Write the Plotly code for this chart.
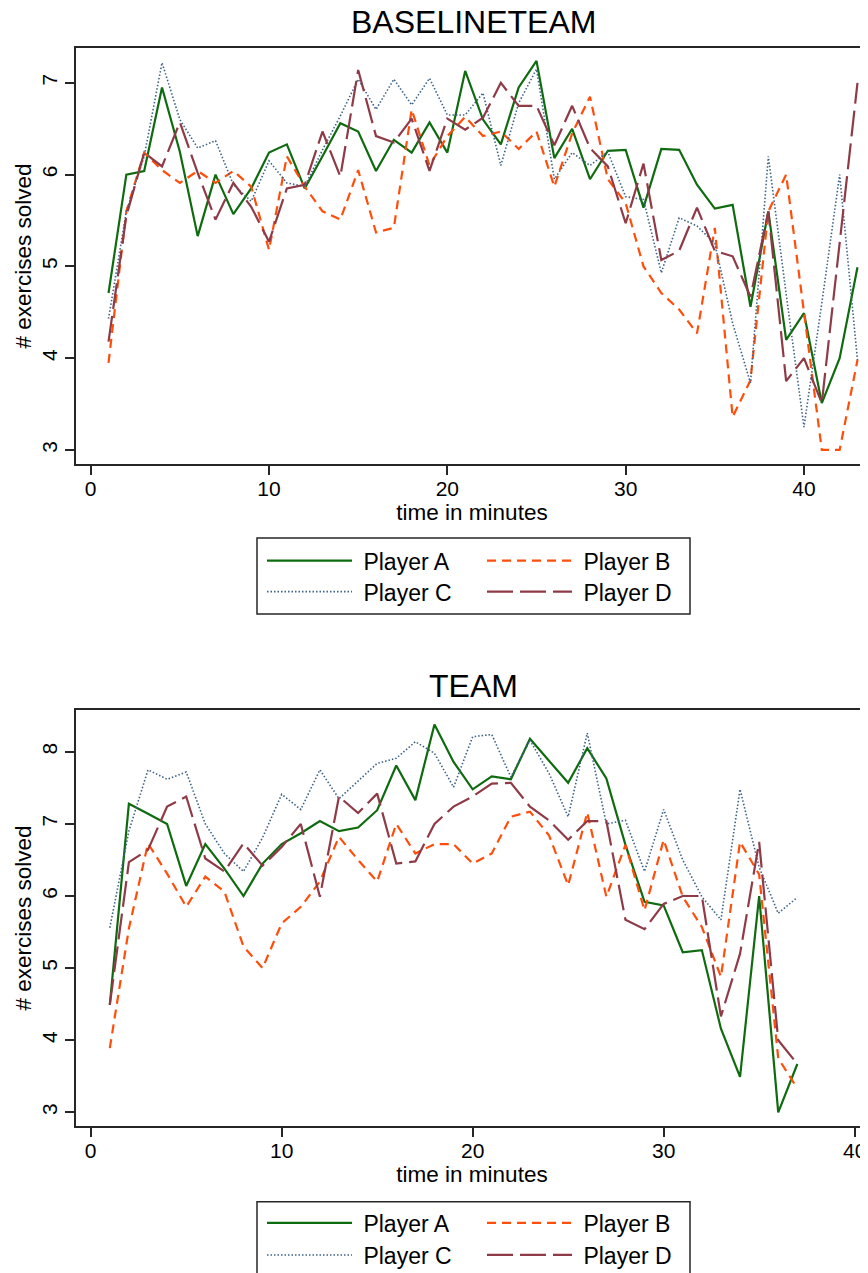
import plotly.graph_objects as go

# ---------------- data ----------------
players = ["Player A", "Player B", "Player C", "Player D"]

top_minutes = list(range(1, 44))
top_A = [4.71, 6.0, 6.04, 6.95, 6.25, 5.33, 6.0, 5.57, 5.85, 6.24,
         6.33, 5.85, 6.2, 6.56, 6.47, 6.04, 6.38, 6.24, 6.57, 6.24,
         7.13, 6.6, 6.33, 6.95, 7.24, 6.18, 6.5, 5.95, 6.26, 6.27,
         5.64, 6.28, 6.27, 5.89, 5.63, 5.67, 4.56, 5.6, 4.2, 4.49,
         3.51, 4.0, 4.99]
top_B = [3.95, 5.6, 6.24, 6.05, 5.91, 6.04, 5.91, 6.04, 5.87, 5.18,
         6.2, 5.87, 5.6, 5.51, 6.05, 5.37, 5.42, 6.71, 6.1, 6.42,
         6.63, 6.42, 6.47, 6.28, 6.47, 5.87, 6.45, 6.85, 5.95, 5.69,
         5.0, 4.71, 4.53, 4.27, 5.42, 3.36, 3.76, 5.6, 6.0, 4.5,
         3.0, 3.0, 3.98]
top_C = [4.43, 5.6, 6.2, 7.22, 6.6, 6.29, 6.37, 5.89, 5.71, 6.15,
         5.91, 5.87, 6.27, 6.64, 7.04, 6.71, 7.04, 6.76, 7.05, 6.65,
         6.65, 6.89, 6.1, 6.78, 7.15, 5.95, 6.24, 6.1, 6.25, 5.76,
         5.73, 4.93, 5.53, 5.44, 5.25, 4.38, 3.73, 6.2, 4.7, 3.25,
         4.6, 6.0, 3.98]
top_D = [4.18, 5.55, 6.24, 6.09, 6.57, 6.02, 5.51, 5.91, 5.65, 5.27,
         5.85, 5.89, 6.47, 5.98, 7.14, 6.42, 6.35, 6.61, 6.04, 6.61,
         6.49, 6.62, 7.0, 6.75, 6.75, 6.32, 6.75, 6.29, 6.09, 5.47,
         6.12, 5.07, 5.17, 5.64, 5.17, 5.11, 4.67, 5.6, 3.75, 4.0,
         3.51, 5.25, 7.0]

bot_minutes = list(range(1, 38))
bot_A = [4.49, 7.28, 7.14, 7.0, 6.14, 6.72, 6.38, 6.0, 6.45, 6.72,
         6.87, 7.04, 6.9, 6.95, 7.19, 7.81, 7.33, 8.38, 7.86, 7.48,
         7.66, 7.62, 8.18, 7.88, 7.57, 8.05, 7.63, 6.71, 5.92, 5.87,
         5.22, 5.25, 4.16, 3.49, 6.0, 3.0, 3.67]
bot_B = [3.89, 5.55, 6.73, 6.31, 5.85, 6.27, 6.06, 5.3, 5.0, 5.62,
         5.85, 6.2, 6.82, 6.5, 6.2, 7.0, 6.59, 6.72, 6.72, 6.45,
         6.59, 7.1, 7.17, 6.84, 6.15, 7.16, 5.99, 6.71, 5.8, 6.78,
         5.99, 5.57, 4.88, 6.75, 6.3, 3.75, 3.33]
bot_C = [5.56, 6.9, 7.75, 7.62, 7.72, 7.0, 6.59, 6.34, 6.81, 7.41,
         7.2, 7.75, 7.35, 7.6, 7.84, 7.91, 8.14, 7.98, 7.51, 8.21,
         8.24, 7.65, 8.16, 7.7, 7.1, 8.26, 7.0, 7.05, 6.34, 7.2,
         6.5, 5.99, 5.67, 7.48, 6.4, 5.76, 5.98]
bot_D = [4.49, 6.47, 6.64, 7.24, 7.38, 6.52, 6.34, 6.73, 6.42, 6.68,
         7.0, 5.99, 7.38, 7.15, 7.42, 6.45, 6.48, 7.0, 7.24, 7.38,
         7.56, 7.57, 7.24, 7.05, 6.78, 7.04, 7.04, 5.67, 5.54, 5.89,
         6.0, 6.0, 4.33, 5.2, 6.75, 4.0, 3.67]

panel_titles = ["BASELINETEAM", "TEAM"]
x_ticks = [0, 10, 20, 30, 40]
top_y_ticks = [3, 4, 5, 6, 7]
bot_y_ticks = [3, 4, 5, 6, 7, 8]

# ---------------- styles ----------------
FONT = "Liberation Sans, Arial, Helvetica, sans-serif"
styles = {
    "Player A": dict(color="#0f6b0f", width=2.2, dash="solid"),
    "Player B": dict(color="#ff4d0a", width=2.2, dash="9px,6px"),
    "Player C": dict(color="#3d6288", width=1.6, dash="1.5px,2px"),
    "Player D": dict(color="#8e3b47", width=2.2, dash="26px,7px"),
}

# page has an 8px body margin: figure origin sits at (8, 8) of the window
OFF = 8
W, H = 860, 1265
ML, MR, MT, MB = 68, 0, 40, 147
PW, PH = W - ML - MR, H - MT - MB


def py(pix):  # window pixel y -> paper y
    return (H - MB - (pix - OFF)) / PH


def px(pix):  # window pixel x -> paper x
    return (pix - OFF - ML) / PW


fig = go.Figure()

panels = [
    (top_minutes, [top_A, top_B, top_C, top_D], "x", "y", ["legend", "legend2"]),
    (bot_minutes, [bot_A, bot_B, bot_C, bot_D], "x2", "y2", ["legend3", "legend4"]),
]
for minutes, series, xa, ya, legs in panels:
    for i, (name, vals) in enumerate(zip(players, series)):
        fig.add_trace(go.Scatter(
            x=minutes, y=vals, mode="lines", name=" " + name,
            line=styles[name], xaxis=xa, yaxis=ya,
            legend=legs[0] if i < 2 else legs[1],
        ))

axis_common = dict(
    showgrid=False, zeroline=False, showline=True, linecolor="#262626",
    linewidth=2, ticks="outside", ticklen=9, tickwidth=1.5, tickcolor="#262626",
    tickfont=dict(family=FONT, size=21, color="black"), automargin=False,
)
xtitle = dict(text="time in minutes", standoff=4, font=dict(family=FONT, size=22.5))
ytitle = dict(text="# exercises solved", standoff=0, font=dict(family=FONT, size=22.5))

fig.update_layout(
    width=W, height=H,
    margin=dict(l=ML, r=MR, t=MT, b=MB, autoexpand=False),
    paper_bgcolor="white", plot_bgcolor="white",
    font=dict(family=FONT, size=21, color="black"),
    xaxis=dict(axis_common, domain=[0, 1], range=[-0.824, 43.59], anchor="y",
               tickvals=x_ticks, mirror=True, ticklabelstandoff=-4, title=xtitle),
    yaxis=dict(axis_common, domain=[py(464), 1.0], range=[2.847, 7.38], anchor="x",
               tickvals=top_y_ticks, tickangle=-90, title=ytitle),
    xaxis2=dict(axis_common, domain=[0, 1], range=[-0.77, 40.70], anchor="y2",
                tickvals=x_ticks, mirror=True, ticklabelstandoff=-4, title=xtitle),
    yaxis2=dict(axis_common, domain=[0.0, py(710)], range=[2.81, 8.58], anchor="x2",
                tickvals=bot_y_ticks, tickangle=-90, title=ytitle),
    showlegend=True,
)

leg_common = dict(orientation="h", xref="paper", yref="paper",
                  xanchor="left", yanchor="middle", itemwidth=85,
                  entrywidth=120, entrywidthmode="pixels",
                  bgcolor="rgba(0,0,0,0)", borderwidth=0,
                  font=dict(family=FONT, size=23, color="black"),
                  traceorder="normal", itemclick=False, itemdoubleclick=False)
LEGX = px(262)
fig.update_layout(
    legend=dict(leg_common, x=LEGX, y=py(560.7)),
    legend2=dict(leg_common, x=LEGX, y=py(591.7)),
    legend3=dict(leg_common, x=LEGX, y=py(1223)),
    legend4=dict(leg_common, x=LEGX, y=py(1255)),
)

# legend frames
for top, bottom in [(538, 614), (1201.7, 1290)]:
    fig.add_shape(type="rect", xref="paper", yref="paper",
                  x0=px(257), x1=px(690), y0=py(bottom), y1=py(top),
                  line=dict(color="#262626", width=1.5), fillcolor="rgba(0,0,0,0)")

# panel titles
for text, cy in zip(panel_titles, [22.5, 686]):
    fig.add_annotation(text=text, xref="paper", yref="paper", x=px(473), y=py(cy),
                       xanchor="center", yanchor="middle", showarrow=False,
                       font=dict(family=FONT, size=32, color="black"))

fig.write_html("out.html")
